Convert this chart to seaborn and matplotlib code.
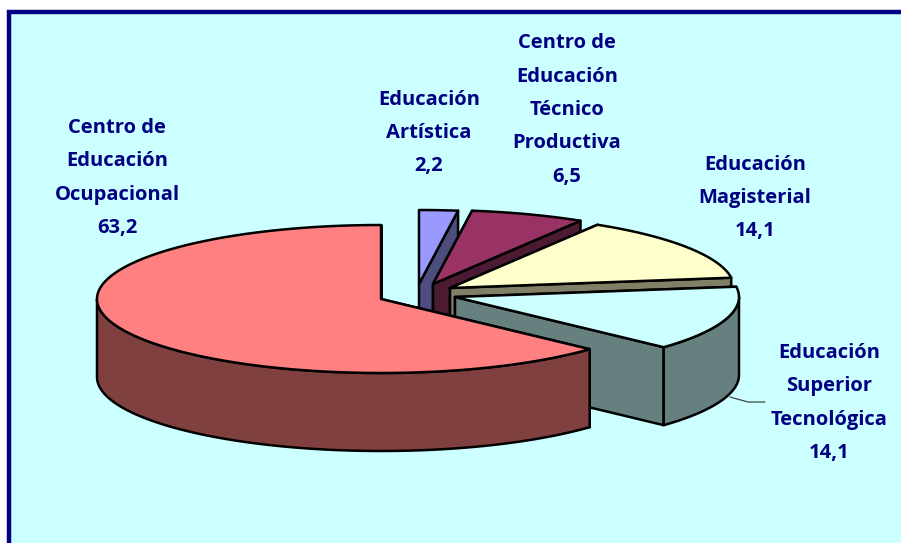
import numpy as np
import matplotlib
matplotlib.use('Agg')
import matplotlib.pyplot as plt
from matplotlib.patches import Rectangle
import seaborn as sns

# data
categories = ['Educación\nArtística', 'Centro de\nEducación\nTécnico\nProductiva',
              'Educación\nMagisterial', 'Educación\nSuperior\nTecnológica',
              'Centro de\nEducación\nOcupacional']
values = [2.2, 6.5, 14.1, 14.1, 63.2]
value_labels = ['2,2', '6,5', '14,1', '14,1', '63,2']

top_colors = ['#9999FF', '#993366', '#FFFFCC', '#CCFFFF', '#FF8080']
wall_colors = ['#4D4D80', '#4D1A33', '#808066', '#668080', '#804040']

# layout of the fake 3d pie, in pixels of the target image
pivots = [(419, 284), (433, 284), (450, 288), (455, 297), (381, 299)]
label_pos = [(429, 133), (567, 110), (755, 198), (829, 403), (117, 178)]
RX, RY, DEPTH = 284, 74, 78
NAVY = '#000080'
BG = '#CCFFFF'


def rim(pivot, a0, a1, n=80):
    """Points on the ellipse, angles clockwise from the top, in radians."""
    t = np.linspace(a0, a1, n)
    return np.column_stack([pivot[0] + RX * np.sin(t), pivot[1] - RY * np.cos(t)])


def draw_slice(ax, pivot, a0, a1, top, wall):
    style = dict(edgecolor='black', linewidth=1.8, joinstyle='round')
    p = np.array(pivot, dtype=float)
    down = np.array([0, DEPTH])

    # radial faces, hidden one first
    for a in (a0, a1):
        end = rim(pivot, a, a, 1)[0]
        ax.fill(*np.array([p, end, end + down, p + down]).T, facecolor=wall, **style)

    # outer wall, only the part that faces the viewer
    w0, w1 = max(a0, np.pi / 2), min(a1, 3 * np.pi / 2)
    if w1 > w0:
        arc = rim(pivot, w0, w1)
        ax.fill(*np.vstack([arc, arc[::-1] + down]).T, facecolor=wall, **style)

    arc = rim(pivot, a0, a1, 200)
    ax.fill(*np.vstack([p, arc]).T, facecolor=top, **style)


sns.set_theme(style='white')
plt.rcParams['font.family'] = ['Open Sans', 'DejaVu Sans']

fig, ax = plt.subplots(figsize=(9.01, 5.43), dpi=100)
fig.subplots_adjust(0, 0, 1, 1)
ax.set_xlim(0, 901)
ax.set_ylim(543, 0)
ax.axis('off')

# panel runs off the right and bottom of the image
ax.add_patch(Rectangle((9, 12), 960, 600, facecolor=BG, edgecolor=NAVY, linewidth=3.2))

# leader line of the superior slice
ax.plot([730, 748, 765], [397, 402, 402], color='#444444', linewidth=0.9)

edges = np.cumsum([0] + values) / sum(values) * 2 * np.pi
for i in range(len(values)):
    draw_slice(ax, pivots[i], edges[i], edges[i + 1], top_colors[i], wall_colors[i])

for name, val, (x, y) in zip(categories, value_labels, label_pos):
    ax.text(x, y, name + '\n' + val, ha='center', va='center', color=NAVY,
            fontsize=14.5, fontweight='bold', linespacing=1.89)

fig.savefig('out.png', dpi=100, facecolor='white')
